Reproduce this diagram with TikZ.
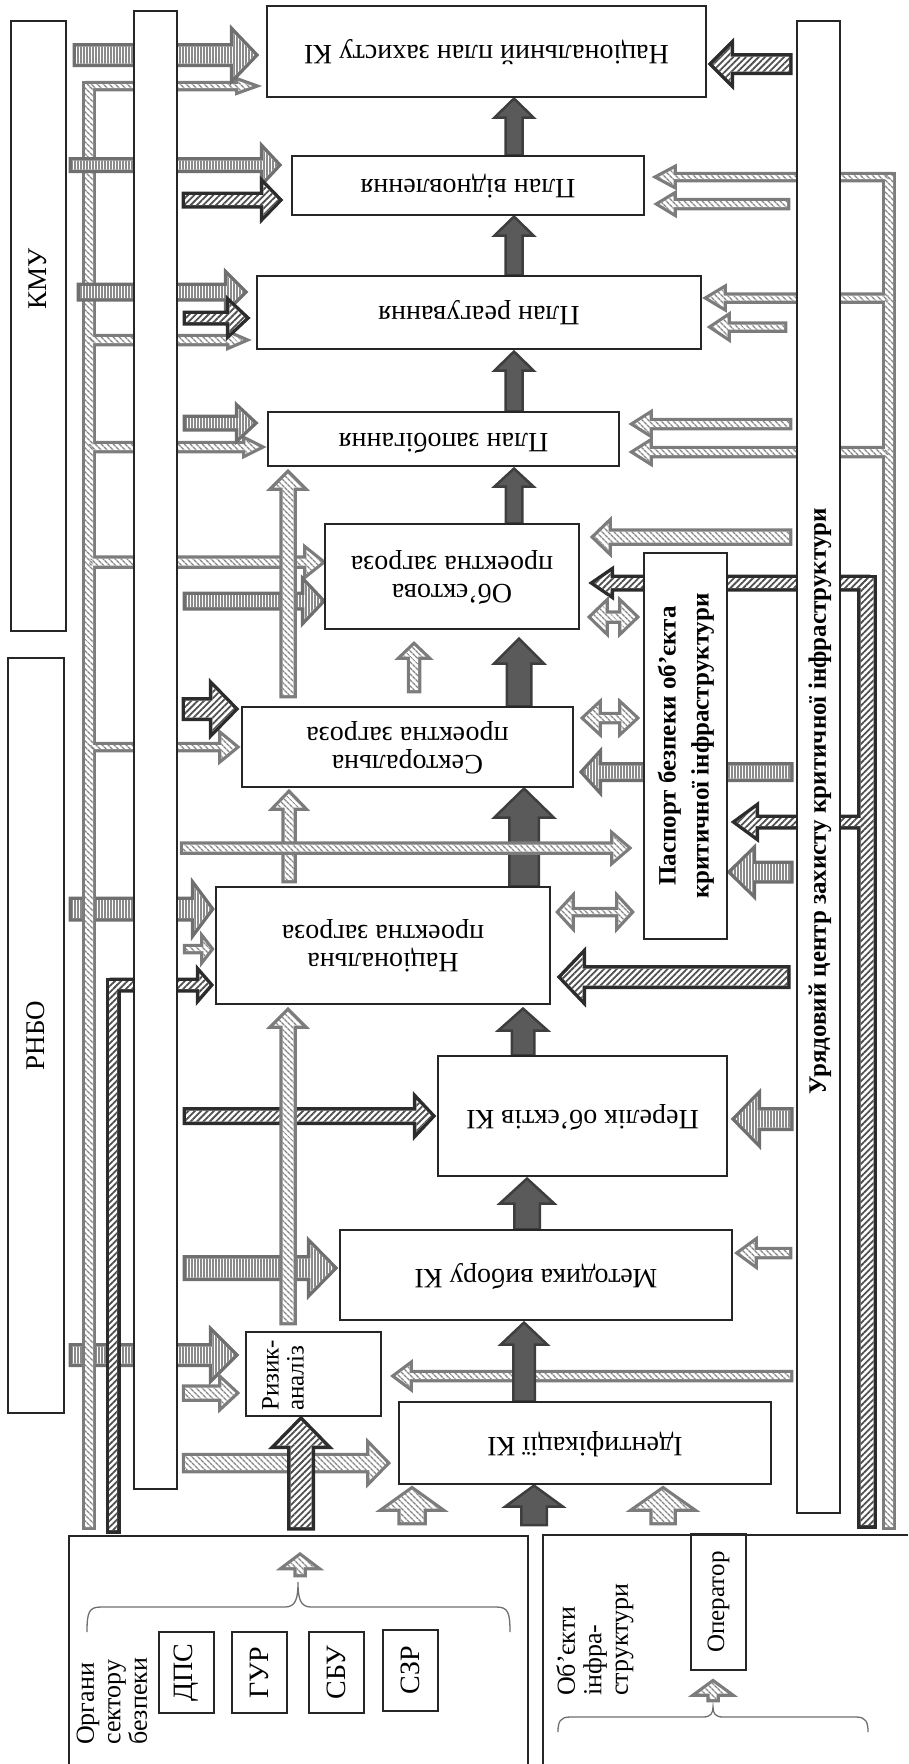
\documentclass[tikz,border=0pt]{standalone}
\usepackage{fontspec}
\setmainfont{Liberation Serif}
\usepackage{graphicx}
\usetikzlibrary{calc,patterns.meta}

\definecolor{boxline}{HTML}{262626}
\definecolor{flowfill}{HTML}{5A5A5A}
\definecolor{flowedge}{HTML}{3E3E3E}
\definecolor{vedge}{HTML}{6F6F6F}
\definecolor{vline}{HTML}{8A8A8A}
\definecolor{dedge}{HTML}{2C2C2C}
\definecolor{dline}{HTML}{505050}
\definecolor{ledge}{HTML}{7C7C7C}
\definecolor{lline}{HTML}{868686}
\definecolor{bracegray}{HTML}{6E6E6E}

\pgfdeclarelayer{arrows}
\pgfsetlayers{arrows,main}

\newcommand{\boxfont}{\fontsize{28}{28}\selectfont}
\newcommand{\sidefont}{\fontsize{26}{26.5}\selectfont}
\newcommand{\upside}[1]{\rotatebox{180}{\begin{tabular}{@{}c@{}}#1\end{tabular}}}
\newcommand{\sideways}[1]{\rotatebox{90}{\begin{tabular}{@{}l@{}}#1\end{tabular}}}
\newcommand{\sidewaysc}[1]{\rotatebox{90}{\begin{tabular}{@{}c@{}}#1\end{tabular}}}

% block arrow outline: from #1 towards #2 (tip kept #3 short of it),
% half shaft #4, half head #5, head length #6
\newcommand{\blockpath}[6]{(#1) coordinate (bA) ($(#2)!#3!(#1)$) coordinate (bB)
  ($(bB)!#6!(bA)$) coordinate (bC)
  ($(bA)!#4!90:(bB)$) -- ($(bC)!#4!-90:(bA)$) -- ($(bC)!#5!-90:(bA)$) -- (bB)
  -- ($(bC)!#5!90:(bA)$) -- ($(bC)!#4!90:(bA)$) -- ($(bA)!#4!-90:(bB)$) -- cycle}
% two-headed outline between #1 and #2
\newcommand{\dblpath}[5]{(#1) coordinate (bA) (#2) coordinate (bB)
  ($(bA)!#5!(bB)$) coordinate (bD) ($(bB)!#5!(bA)$) coordinate (bC)
  ($(bD)!#3!90:(bB)$) -- ($(bC)!#3!-90:(bA)$) -- ($(bC)!#4!-90:(bA)$) -- (bB)
  -- ($(bC)!#4!90:(bA)$) -- ($(bC)!#3!90:(bA)$) -- ($(bD)!#3!-90:(bB)$)
  -- ($(bD)!#4!-90:(bB)$) -- (bA) -- ($(bD)!#4!90:(bB)$) -- cycle}
% joined lines: edge first, then white core, then hatch
\newcommand{\trunk}[4]{%
  \foreach \pa/\pb/\pg/\ps/\ph/\pl in {#4} {\path[draw=#1, fill=#1, line width=#2] \blockpath{\pa}{\pb}{\pg}{\ps}{\ph}{\pl};}
  \foreach \pa/\pb/\pg/\ps/\ph/\pl in {#4} {\path[fill=white] \blockpath{\pa}{\pb}{\pg}{\ps}{\ph}{\pl};}
  \foreach \pa/\pb/\pg/\ps/\ph/\pl in {#4} {\path[#3] \blockpath{\pa}{\pb}{\pg}{\ps}{\ph}{\pl};}}

\begin{document}
\begin{tikzpicture}[x=1pt, y=-1pt,
  box/.style={draw=boxline, line width=1.1pt, fill=white, inner sep=0pt, font=\boxfont},
  txt/.style={inner sep=0pt, font=\sidefont},
  flow/.style={draw=flowedge, fill=flowfill, line width=2.5pt},
  vpat/.style={pattern={Lines[angle=90,distance=3pt,line width=1.3pt]}, pattern color=vline},
  dpat/.style={pattern={Lines[angle=45,distance=4.5pt,line width=1.8pt]}, pattern color=dline},
  lpat/.style={pattern={Lines[angle=-45,distance=4pt,line width=1.5pt]}, pattern color=lline},
  vstripe/.style={preaction={draw=vedge, fill=vedge, line width=7pt}, fill=white, postaction={vpat}},
  dhatch/.style={preaction={draw=dedge, fill=dedge, line width=7pt}, fill=white, postaction={dpat}},
  lhatch/.style={preaction={draw=ledge, fill=ledge, line width=6.5pt}, fill=white, postaction={lpat}},
  curly/.style={draw=bracegray, line width=1.3pt}
]
\useasboundingbox (0,0) rectangle (908,1764);

% side bodies
\node[box, minimum width=55pt, minimum height=610pt] (kmu) at (38.5,326) {};
\node[txt, font=\fontsize{27}{27}\selectfont] (kmulabel) at (38,279) {\rotatebox{90}{КМУ}};
\node[box, minimum width=56pt, minimum height=755pt, font=\fontsize{27}{27}\selectfont] (rnbo) at (36,1035.5) {\rotatebox{90}{РНБО}};
\node[box, minimum width=43pt, minimum height=1478pt] (bar) at (155.5,750) {};
\node[box, minimum width=43pt, minimum height=1492pt] (ucbar) at (818.5,767) {};
\node[txt, font=\bfseries\fontsize{25}{27}\selectfont] (uclabel) at (820,801) {\rotatebox{90}{Урядовий центр захисту критичної інфраструктури}};

% documents
\node[box, minimum width=439pt, minimum height=91pt] (nplan) at (486.5,51.5) {\upside{Національний план захисту КІ}};
\node[box, minimum width=352pt, minimum height=59pt] (vidn) at (468,185.5) {\upside{План відновлення}};
\node[box, minimum width=444pt, minimum height=73pt] (reag) at (479,312.5) {\upside{План реагування}};
\node[box, minimum width=351pt, minimum height=54pt] (zapob) at (443.5,439) {\upside{План запобігання}};
\node[box, minimum width=254pt, minimum height=105pt] (obpz) at (452,576.5) {\upside{Об’єктова\\проектна загроза}};
\node[box, minimum width=331pt, minimum height=80pt] (secpz) at (407.5,747) {\upside{Секторальна\\проектна загроза}};
\node[box, minimum width=83pt, minimum height=386pt, font=\bfseries\fontsize{25}{33}\selectfont] (pasp) at (685.5,746)
  {\sidewaysc{Паспорт безпеки об’єкта\\критичної інфраструктури}};
\node[box, minimum width=334pt, minimum height=117pt] (natpz) at (383,945.5) {\upside{Національна\\проектна загроза}};
\node[box, minimum width=289pt, minimum height=120pt] (perel) at (582.5,1116) {\upside{Перелік об’єктів КІ}};
\node[box, minimum width=392pt, minimum height=90pt] (metod) at (536,1275) {\upside{Методика вибору КІ}};
\node[box, minimum width=135pt, minimum height=84pt] (rizyk) at (313.5,1374) {};
\node[txt, anchor=south west, font=\fontsize{25}{25}\selectfont] (rizyklabel) at (261,1411) {\sideways{Ризик-\\аналіз}};
\node[box, minimum width=372pt, minimum height=82pt] (ident) at (585,1443) {\upside{Ідентифікації КІ}};

% bottom groups
\node[box, minimum width=55pt, minimum height=81pt] (dps) at (186.5,1672.5) {\rotatebox{90}{ДПС}};
\node[box, minimum width=55pt, minimum height=81pt] (gur) at (259.5,1672.5) {\rotatebox{90}{ГУР}};
\node[box, minimum width=55pt, minimum height=81pt] (sbu) at (336.5,1672.5) {\rotatebox{90}{СБУ}};
\node[box, minimum width=55pt, minimum height=81pt] (szr) at (410.5,1670.5) {\rotatebox{90}{СЗР}};
\node[box, minimum width=55pt, minimum height=136pt, font=\fontsize{25}{25}\selectfont] (oper) at (718.5,1602) {\rotatebox{90}{Оператор}};
\node[txt, anchor=south west] (orglabel) at (75,1745) {\sideways{Органи\\сектору\\безпеки}};
\node[txt, anchor=south west] (objlabel) at (556,1696) {\sideways{Об’єкти\\інфра-\\структури}};
\draw[boxline, line width=1.1pt] (69,1764) |- (528,1536) -- (528,1764);
\draw[boxline, line width=1.1pt] (543,1764) |- (908,1535);
\draw[curly] (87,1632) .. controls (87,1612) and (89,1607) .. (101,1607) -- (285,1607)
  .. controls (296,1607) and (298,1598) .. (298,1582) .. controls (298,1598) and (300,1607) .. (311,1607)
  -- (496,1607) .. controls (508,1607) and (510,1612) .. (510,1632);
\draw[curly] (558,1732) .. controls (558,1722) and (560,1717) .. (570,1717) -- (703,1717)
  .. controls (711,1717) and (713,1713) .. (713,1707) .. controls (713,1713) and (715,1717) .. (723,1717)
  -- (856,1717) .. controls (866,1717) and (868,1722) .. (868,1732);

% free ends
\coordinate (v1) at (76,55); \coordinate (v2) at (72,165); \coordinate (v3) at (80,292);
\coordinate (v4) at (186,423); \coordinate (v5) at (186,601); \coordinate (v6) at (72,909);
\coordinate (v7) at (186,1268); \coordinate (v8) at (72,1355); \coordinate (v9) at (790,772);
\coordinate (v10) at (790,872); \coordinate (v11) at (790,1119);
\coordinate (d1) at (789,64); \coordinate (d2) at (185,200); \coordinate (d3) at (186,318);
\coordinate (d4) at (185,709); \coordinate (d5) at (186,1116); \coordinate (d6) at (787,977);
\coordinate (d7) at (301,1527);
\coordinate (l1) at (787,204); \coordinate (l2) at (784,327); \coordinate (l3) at (789,424);
\coordinate (l4) at (789,537); \coordinate (l5) at (288,695); \coordinate (l6) at (414,690);
\coordinate (l7) at (289,880); \coordinate (l8) at (183,848); \coordinate (l9) at (186,949);
\coordinate (l10) at (288,1322); \coordinate (l11) at (185,1393); \coordinate (l12) at (185,1463);
\coordinate (l13) at (412,1522); \coordinate (l14) at (663,1522); \coordinate (l15) at (790,1376);
\coordinate (l16) at (789,1253); \coordinate (l17) at (300,1574); \coordinate (l17t) at (300,1556);
\coordinate (l18) at (713,1699);
\coordinate (w1) at (600,617); \coordinate (w2) at (600,718); \coordinate (w3) at (600,912);
\coordinate (fa) at (514,0); \coordinate (fb) at (519,0); \coordinate (fc) at (524,0);
\coordinate (fd) at (523,0); \coordinate (fe) at (527,0); \coordinate (ff) at (534,1525);
% trunk lines
\coordinate (lt0) at (89,1527); \coordinate (lt1) at (89,84);
\coordinate (lb1) at (89,86); \coordinate (lb2) at (89,340); \coordinate (lb3) at (89,447);
\coordinate (lb4) at (89,562); \coordinate (lb5) at (89,747);
\coordinate (rt0) at (889,1527); \coordinate (rt1) at (889,175);
\coordinate (rb1) at (889,177); \coordinate (rb2) at (889,298); \coordinate (rb3) at (889,452);
\coordinate (dt0) at (113,1530); \coordinate (dt1) at (113,981); \coordinate (dtb) at (113,985);
\coordinate (dr0) at (867,1525); \coordinate (dr1) at (867,578);
\coordinate (drb1) at (867,583); \coordinate (drb2) at (867,822);

\begin{pgfonlayer}{arrows}
\foreach \pa/\pb/\pg/\ps/\ph/\pl in {v6/v6 -| natpz.west/5pt/9pt/21.5pt/16pt,
    v8/v8 -| rizyk.west/11pt/8.5pt/22pt/22pt}
  {\path[vstripe] \blockpath{\pa}{\pb}{\pg}{\ps}{\ph}{\pl};}

\trunk{ledge}{6.5pt}{lpat}{lt0/lt1/0pt/4pt/4pt/0pt,
  lb1/lb1 -| nplan.west/14pt/2pt/5pt/14pt,
  lb2/lb2 -| reag.west/13pt/3pt/6pt/14pt,
  lb3/lb3 -| zapob.west/8pt/3pt/7pt/14pt,
  lb4/lb4 -| obpz.west/3pt/3.5pt/12pt/15pt,
  lb5/lb5 -| secpz.west/6pt/2pt/11.5pt/14pt}
\trunk{dedge}{7pt}{dpat}{dt0/dt1/0pt/4pt/4pt/0pt,
  dtb/dtb -| natpz.west/6pt/4pt/11.5pt/10pt}
\trunk{ledge}{6.5pt}{lpat}{rt0/rt1/0pt/4pt/4pt/0pt,
  rb1/rb1 -| vidn.east/14pt/2pt/8pt/15pt,
  rb2/rb2 -| reag.east/7pt/2.5pt/9pt/15pt,
  rb3/rb3 -| zapob.east/15pt/3pt/9.5pt/15pt}
\trunk{dedge}{7pt}{dpat}{dr0/dr1/0pt/6.5pt/6.5pt/0pt,
  drb1/drb1 -| obpz.east/15pt/5pt/11pt/16pt,
  drb2/drb2 -| pasp.east/9pt/4pt/14pt/19pt}

\foreach \pa/\pb/\pg/\ps/\ph/\pl in {v1/v1 -| nplan.west/12pt/8.5pt/22pt/21pt,
    v2/v2 -| vidn.west/14pt/4.5pt/15pt/14pt,
    v3/v3 -| reag.west/13pt/6pt/16pt/16pt,
    v4/v4 -| zapob.west/14pt/5pt/14pt/15pt,
    v5/v5 -| obpz.west/3pt/6pt/18pt/17pt,
    v7/v7 -| metod.west/6pt/9.5pt/23.5pt/23pt,
    v9/v9 -| secpz.east/10pt/6.5pt/16.5pt/15pt,
    v10/v10 -| pasp.east/4pt/8pt/20.5pt/21pt,
    v11/v11 -| perel.east/8pt/8.5pt/22.5pt/22pt}
  {\path[vstripe] \blockpath{\pa}{\pb}{\pg}{\ps}{\ph}{\pl};}
\foreach \pa/\pb/\pg/\ps/\ph/\pl in {d1/d1 -| nplan.east/6pt/7.5pt/18pt/18pt,
    d2/d2 -| vidn.west/13pt/5pt/15.5pt/15pt,
    d3/d3 -| reag.west/11pt/4pt/15pt/16pt,
    d4/d4 -| secpz.west/7pt/8.5pt/22.5pt/22pt,
    d5/d5 -| perel.west/6pt/5.5pt/16pt/15pt,
    d6/d6 -| natpz.east/11pt/8.5pt/22pt/21pt}
  {\path[dhatch] \blockpath{\pa}{\pb}{\pg}{\ps}{\ph}{\pl};}
\foreach \pa/\pb/\pg/\ps/\ph/\pl in {l1/l1 -| vidn.east/15pt/3pt/8.5pt/14pt,
    l2/l2 -| reag.east/11pt/2.5pt/10pt/15pt,
    l3/l3 -| zapob.east/15pt/3pt/9.5pt/15pt,
    l4/l4 -| obpz.east/15pt/5.5pt/13.5pt/14pt,
    l9/l9 -| natpz.west/5pt/2pt/9pt/7pt,
    l11/l11 -| rizyk.west/10pt/5.5pt/13pt/14pt,
    l12/l12 -| ident.west/12pt/7pt/17.5pt/17pt,
    l15/l15 -| rizyk.east/14pt/3pt/10.5pt/14pt,
    l16/l16 -| metod.east/7pt/3pt/11pt/15pt}
  {\path[lhatch] \blockpath{\pa}{\pb}{\pg}{\ps}{\ph}{\pl};}
\path[lhatch] \dblpath{$(w1 -| obpz.east)+(12,0)$}{$(w1 -| pasp.west)+(-8,0)$}{3.5pt}{13.5pt}{14pt};
\path[lhatch] \dblpath{$(w2 -| secpz.east)+(11,0)$}{$(w2 -| pasp.west)+(-8,0)$}{3pt}{13pt}{14pt};
\path[lhatch] \dblpath{$(w3 -| natpz.east)+(9,0)$}{$(w3 -| pasp.west)+(-13,0)$}{2pt}{13pt}{12pt};

% main chain
\foreach \pa/\pb/\pg/\ps/\ph/\pl in {fa |- vidn.north/fa |- nplan.south/1pt/8.5pt/19.5pt/19pt,
    fa |- reag.north/fa |- vidn.south/1pt/8.5pt/19.5pt/19pt,
    fa |- zapob.north/fa |- reag.south/2pt/8.5pt/19.5pt/19pt,
    fa |- obpz.north/fa |- zapob.south/2pt/8.25pt/19.5pt/18pt,
    fb |- secpz.north/fb |- obpz.south/9pt/12.25pt/25pt/25pt,
    fc |- natpz.north/fc |- secpz.south/1pt/14.75pt/29.75pt/29pt,
    fd |- perel.north/fd |- natpz.south/4pt/11.25pt/24.75pt/22pt,
    fe |- metod.north/fe |- perel.south/2pt/12.75pt/27.25pt/25pt,
    fc |- ident.north/fc |- metod.south/2pt/10.75pt/23.25pt/22pt,
    ff/ff |- ident.south/1pt/12.75pt/28.75pt/21pt}
  {\path[flow] \blockpath{\pa}{\pb}{\pg}{\ps}{\ph}{\pl};}

\foreach \pa/\pb/\pg/\ps/\ph/\pl in {l5/l5 |- zapob.south/7pt/5.5pt/14pt/14pt,
    l6/l6 |- obpz.south/16pt/4pt/11.5pt/11pt,
    l7/l7 |- secpz.south/6pt/4.5pt/13.5pt/14pt,
    l8/l8 -| pasp.west/16pt/3.5pt/12pt/14pt,
    l10/l10 |- natpz.south/7pt/5.5pt/14pt/14pt,
    l13/l13 |- ident.south/5pt/11.5pt/26.5pt/19pt,
    l14/l14 |- ident.south/5pt/10.5pt/27pt/19pt,
    l17/l17t/0pt/3.5pt/14.5pt/11pt,
    l18/l18 |- oper.south/12pt/3.5pt/15pt/11pt}
  {\path[lhatch] \blockpath{\pa}{\pb}{\pg}{\ps}{\ph}{\pl};}
\path[dhatch] \blockpath{d7}{d7 |- rizyk.south}{4pt}{10.5pt}{24.5pt}{25pt};
\end{pgfonlayer}
\end{tikzpicture}
\end{document}
